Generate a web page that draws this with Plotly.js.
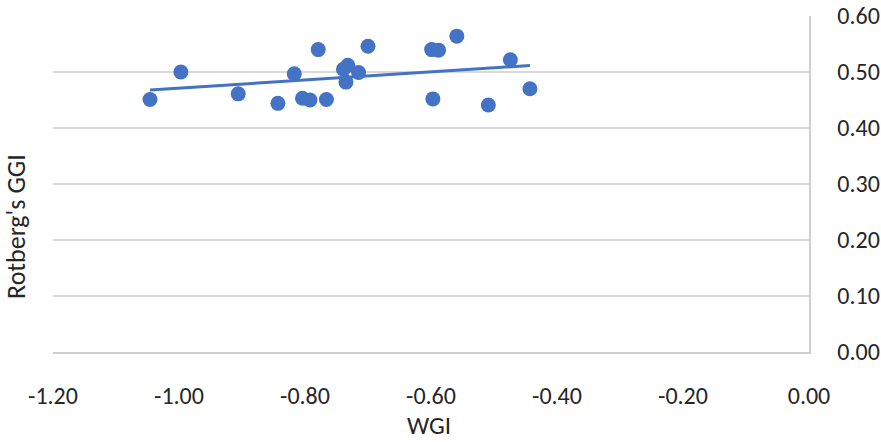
<!DOCTYPE html>
<html>
<head>
<meta charset="utf-8">
<script src="https://cdn.plot.ly/plotly-3.0.1.min.js"></script>
<style>html,body{margin:0;padding:0;background:#fff;}#chart{width:881px;height:442px;}</style>
</head>
<body>
<div id="chart"></div>
<script>
const wgi = [-1.046,-0.997,-0.906,-0.843,-0.817,-0.804,-0.792,-0.779,-0.766,-0.739,-0.732,-0.735,-0.715,-0.700,-0.599,-0.588,-0.597,-0.559,-0.509,-0.474,-0.443];
const ggi = [0.451,0.500,0.461,0.444,0.497,0.453,0.450,0.540,0.451,0.505,0.512,0.482,0.499,0.546,0.540,0.539,0.452,0.564,0.441,0.522,0.470];
const xTicks = [-1.2,-1.0,-0.8,-0.6,-0.4,-0.2,0];
const yTicks = [0,0.1,0.2,0.3,0.4,0.5,0.6];

// linear trendline (least squares)
const n = wgi.length;
const mx = wgi.reduce((a,b)=>a+b,0)/n, my = ggi.reduce((a,b)=>a+b,0)/n;
let sxy=0, sxx=0;
for (let i=0;i<n;i++){ sxy+=(wgi[i]-mx)*(ggi[i]-my); sxx+=(wgi[i]-mx)**2; }
const slope = sxy/sxx, icpt = my - slope*mx;
const xmin = Math.min(...wgi), xmax = Math.max(...wgi);
const trendX = [xmin, xmax];
const trendY = trendX.map(v => icpt + slope*v);

const font = "Carlito, Calibri, sans-serif";
const blue = '#4472C4';
const txt = '#262626';

const data = [
  {x: trendX, y: trendY, mode: 'lines', line: {color: blue, width: 3}, hoverinfo: 'skip'},
  {x: wgi, y: ggi, mode: 'markers', marker: {color: blue, size: 15}}
];

const layout = {
  width: 881, height: 442,
  margin: {l: 53, r: 72, t: 16, b: 90},
  paper_bgcolor: '#fff', plot_bgcolor: '#fff',
  showlegend: false,
  font: {family: font, color: txt, size: 24},
  xaxis: {
    range: [-1.2, 0], tickvals: xTicks, ticktext: xTicks.map(v => v.toFixed(2)),
    showgrid: false, zeroline: false, showline: true, linecolor: '#D0D0D0', linewidth: 1.5,
    ticks: '', ticklabelstandoff: 22, tickfont: {size: 24, family: font, color: txt}
  },
  yaxis: {
    range: [0, 0.6], tickvals: yTicks, ticktext: yTicks.map(v => v.toFixed(2)),
    side: 'right', showgrid: true, gridcolor: '#D9D9D9', gridwidth: 1.5,
    zeroline: false, showline: true, linecolor: '#D0D0D0', linewidth: 1.5,
    ticks: '', ticklabelstandoff: 22, tickfont: {size: 24, family: font, color: txt}
  },
  annotations: [
    {text: "Rotberg's GGI", xref: 'paper', yref: 'paper', x: -0.049, y: 0.375,
     textangle: -90, showarrow: false, xanchor: 'center', yanchor: 'middle',
     font: {size: 26, family: font, color: txt}},
    {text: 'WGI', xref: 'paper', yref: 'paper', x: 0.497, y: -0.2202,
     showarrow: false, xanchor: 'center', yanchor: 'middle',
     font: {size: 25, family: font, color: txt}}
  ]
};

Plotly.newPlot('chart', data, layout, {displayModeBar: false, staticPlot: true});
</script>
</body>
</html>
